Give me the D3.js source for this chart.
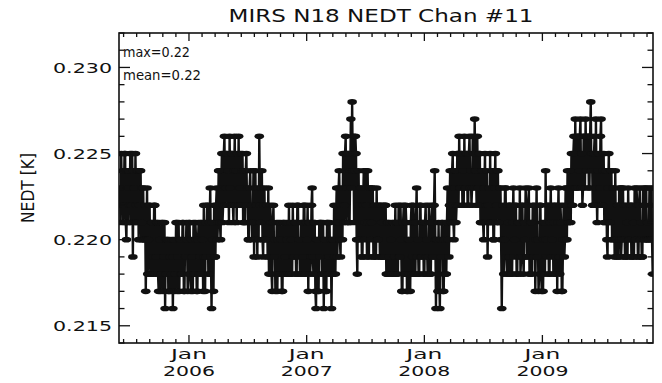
<!DOCTYPE html>
<html><head><meta charset="utf-8">
<script src="https://cdn.jsdelivr.net/npm/d3@7"></script>
<style>html,body{margin:0;padding:0;background:#fff;}svg{display:block;}</style>
</head><body>
<svg id="chart" width="662" height="383"></svg>
<script>
// ---- data (NEDT in mK, one sample every 2 days from 2005-06-01) ----
const title = "MIRS N18 NEDT Chan #11";
const yLabel = "NEDT [K]";
const statMax = "max=0.22";
const statMean = "mean=0.22";
const startDate = Date.UTC(2005, 5, 1);
const stepDays = 2;
const nedtPart1 = [223,221,225,222,224,221,222,225,225,221,220,224,223,221,224,222,225,221,222,225,
  219,224,223,221,225,222,221,224,224,220,222,224,224,220,221,223,223,220,220,222,
  217,220,223,218,220,222,222,218,218,221,221,218,219,222,222,218,219,221,221,218,
  217,221,220,217,218,221,221,217,219,221,216,220,218,220,220,217,217,220,219,217,
  218,220,216,219,220,217,218,221,221,217,219,221,217,220,220,218,218,221,221,217,
  217,220,219,221,220,217,218,221];
const nedtPart2 = [221,218,217,220,219,217,221,218,218,221,220,217,217,220,221,218,219,221,218,221,
  220,217,222,219,217,221,219,222,222,218,218,221,223,219,216,221,220,217,222,219,
  219,222,223,220,221,224,224,221,220,223,225,221,222,225,226,222,223,225,225,222,
  224,221,226,223,222,225,225,222,221,224,226,222,224,221,225,222,226,222,223,225,
  222,224,225,221,224,221,221,224,225,222,223,220,220,223,224,221,222,220,221,224,
  219,223,224,220,222,219,223,220,226,222,221,223,224,220,219,222,223,220,220,222,
  222,219,223,218,219,222,221,218,217,221,222,219,220,217,218,221,217,220,221,218,
  218,221,220,217,217,221,221,218,219,221,218,220,221,218,222,218,218,221,220,218,
  222,219,219,221,221,218,218,222,222,219,220,218,218,221,221,218,219,222,222,218,218,221];
const nedtPart3 = [220,222,217,221,221,218,219,222,223,219,218,221,221,217,216,220,220,217,217,221,
  219,221,221,218,218,221,216,220,220,217,217,221,221,218,219,221,218,220,216,220,
  220,218,222,219,218,221,223,219,221,223,224,220,219,222,223,220,225,221,222,225,
  226,221,223,225,225,221,221,224,227,223,228,224,226,221,224,226,225,220,218,222,
  224,220,220,223,223,219,219,222,224,220,221,224,222,219,224,221,219,223,223,220,
  221,223,223,219,219,222,222,219,223,220,220,222,222,219,219,222,221,219,222,219,
  219,222,222,218,218,221,221,218,219,221,220,218,218,221,221,218,219,222,218,221,
  221,218,222,219,219,222,220,217,217,221,222,218,218,222,221,217,217,220,220,218,
  217,221,222,218,219,222,221,218,218,221,223,219,220,218,218,222,222,219,219,221,221,218];
const nedtPart4 = [218,221,222,219,220,218,219,222,221,218,218,221,222,219,219,222,224,220,216,220,
  220,217,221,218,216,220,219,221,221,217,217,220,221,218,218,221,223,220,219,222,
  224,221,221,224,225,221,220,223,224,221,222,225,225,222,226,223,223,225,225,222,
  224,222,226,223,223,225,225,222,222,225,226,223,224,222,223,226,225,223,227,224,
  224,222,226,223,222,225,225,221,221,224,224,221,220,223,225,221,222,224,219,222,
  223,221,225,221,221,224,224,220,220,223,225,221,222,224,224,221,221,223,223,220,
  216,220,222,218,220,223,223,219,218,222,221,218,219,222,222,218,218,221,223,219,
  220,222,222,218,218,221,221,219,223,218,219,222,222,219,218,221,220,223,222,219,
  219,222,223,218,218,221,221,218,222,219,219,222,217,220,223,219,220,217,218,222,222,218,217,221];
const nedtPart5 = [217,220,221,218,224,220,219,222,222,218,218,221,223,219,220,222,218,221,222,218,
  219,222,217,221,223,219,218,222,221,217,217,220,222,219,220,223,223,220,224,221,
  221,223,224,221,225,222,222,225,226,223,227,223,223,226,226,223,224,226,227,223,
  225,222,223,226,226,223,227,224,224,226,226,223,223,226,228,224,225,222,222,225,
  226,222,227,223,221,224,225,222,223,226,227,222,222,224,225,221,221,224,224,220,
  219,223,225,221,221,224,224,220,220,223,223,219,224,220,219,222,222,219,223,220,
  223,219,220,223,223,220,222,219,219,222,221,219,223,220,220,222,222,219,219,222,
  221,219,223,220,220,223,222,219,219,222,223,220,221,219,219,223,222,220,220,223,
  223,220,221,220,220,223,222,220,223,220,218];
const yTickValues = [0.215, 0.220, 0.225, 0.230];
const yTickLabels = ["0.215", "0.220", "0.225", "0.230"];
const xTickYears = [2006, 2007, 2008, 2009];
const xTickMonth = "Jan";

// ---- build series ----
const allMK = [].concat(nedtPart1, nedtPart2, nedtPart3, nedtPart4, nedtPart5);
const series = allMK.map((v, i) => ({date: new Date(startDate + i * stepDays * 86400000), value: v / 1000}));

// ---- layout ----
const L = 119, R = 653, T = 33, B = 343;
const svg = d3.select("#chart");
const x = d3.scaleUtc().domain([new Date(Date.UTC(2005,4,29)), new Date(Date.UTC(2009,11,10))]).range([L, R]);
const y = d3.scaleLinear().domain([0.214, 0.232]).range([B, T]);
const font = "DejaVu Sans, Verdana, sans-serif";

svg.append("clipPath").attr("id","clip").append("rect")
  .attr("x", L).attr("y", T).attr("width", R-L).attr("height", B-T);

const g = svg.append("g").attr("clip-path","url(#clip)");
g.append("path").datum(series)
  .attr("fill","none").attr("stroke","#111").attr("stroke-width",2.4)
  .attr("stroke-linejoin","round")
  .attr("d", d3.line().x(d => x(d.date)).y(d => y(d.value)));
g.selectAll("ellipse").data(series).enter().append("ellipse")
  .attr("cx", d => x(d.date)).attr("cy", d => y(d.value))
  .attr("rx", 4.8).attr("ry", 2.8).attr("fill","#111");

// ---- frame ----
svg.append("rect").attr("x", L).attr("y", T).attr("width", R-L).attr("height", B-T)
  .attr("fill","none").attr("stroke","#111").attr("stroke-width",1.6);

// ---- y ticks (left and right, inward) ----
const yMinor = d3.range(214, 233).map(v => v/1000);
const ticks = svg.append("g").attr("stroke","#111").attr("stroke-width",1.3);
yMinor.forEach(v => {
  const major = Math.round(v*1000) % 5 === 0;
  const len = major ? 11 : 5.5;
  const yy = y(v);
  ticks.append("line").attr("x1", L).attr("x2", L+len).attr("y1", yy).attr("y2", yy);
  ticks.append("line").attr("x1", R).attr("x2", R-len).attr("y1", yy).attr("y2", yy);
});

// ---- x ticks (bottom and top, inward): year majors, 8 minor between ----
const yearsAll = [2005, 2006, 2007, 2008, 2009, 2010];
for (let k = 0; k < yearsAll.length - 1; k++) {
  const x0 = x(new Date(Date.UTC(yearsAll[k],0,1)));
  const x1 = x(new Date(Date.UTC(yearsAll[k+1],0,1)));
  for (let m = 0; m < 9; m++) {
    const xx = x0 + (x1 - x0) * m / 9;
    if (xx < L + 1 || xx > R - 1) continue;
    const len = m === 0 ? 8 : 4;
    ticks.append("line").attr("x1", xx).attr("x2", xx).attr("y1", B).attr("y2", B-len);
    ticks.append("line").attr("x1", xx).attr("x2", xx).attr("y1", T).attr("y2", T+len);
  }
}

// ---- labels ----
const txt = svg.append("g").attr("fill","#111").style("font-family", font);
yTickValues.forEach((v, i) => {
  txt.append("text").attr("x", 112).attr("y", y(v) + 5.5)
    .attr("text-anchor","end").style("font-size","13.5px")
    .attr("textLength", 59).attr("lengthAdjust","spacingAndGlyphs")
    .text(yTickLabels[i]);
});
xTickYears.forEach(yr => {
  const xx = x(new Date(Date.UTC(yr,0,1)));
  txt.append("text").attr("x", xx).attr("y", 359).attr("text-anchor","middle")
    .style("font-size","13.5px").attr("textLength", 36).attr("lengthAdjust","spacingAndGlyphs")
    .text(xTickMonth);
  txt.append("text").attr("x", xx).attr("y", 376).attr("text-anchor","middle")
    .style("font-size","13.5px").attr("textLength", 52).attr("lengthAdjust","spacingAndGlyphs")
    .text(String(yr));
});
txt.append("text").attr("x", 381).attr("y", 22).attr("text-anchor","middle")
  .style("font-size","17px").attr("textLength", 305).attr("lengthAdjust","spacingAndGlyphs")
  .text(title);
txt.append("text").attr("transform","translate(34,188) rotate(-90)").attr("text-anchor","middle")
  .style("font-size","17px").attr("textLength", 70).attr("lengthAdjust","spacingAndGlyphs")
  .text(yLabel);
txt.append("text").attr("x", 123).attr("y", 57).style("font-size","14px")
  .attr("textLength", 67).attr("lengthAdjust","spacingAndGlyphs").text(statMax);
txt.append("text").attr("x", 123).attr("y", 80).style("font-size","14px")
  .attr("textLength", 78).attr("lengthAdjust","spacingAndGlyphs").text(statMean);
</script>
</body></html>
